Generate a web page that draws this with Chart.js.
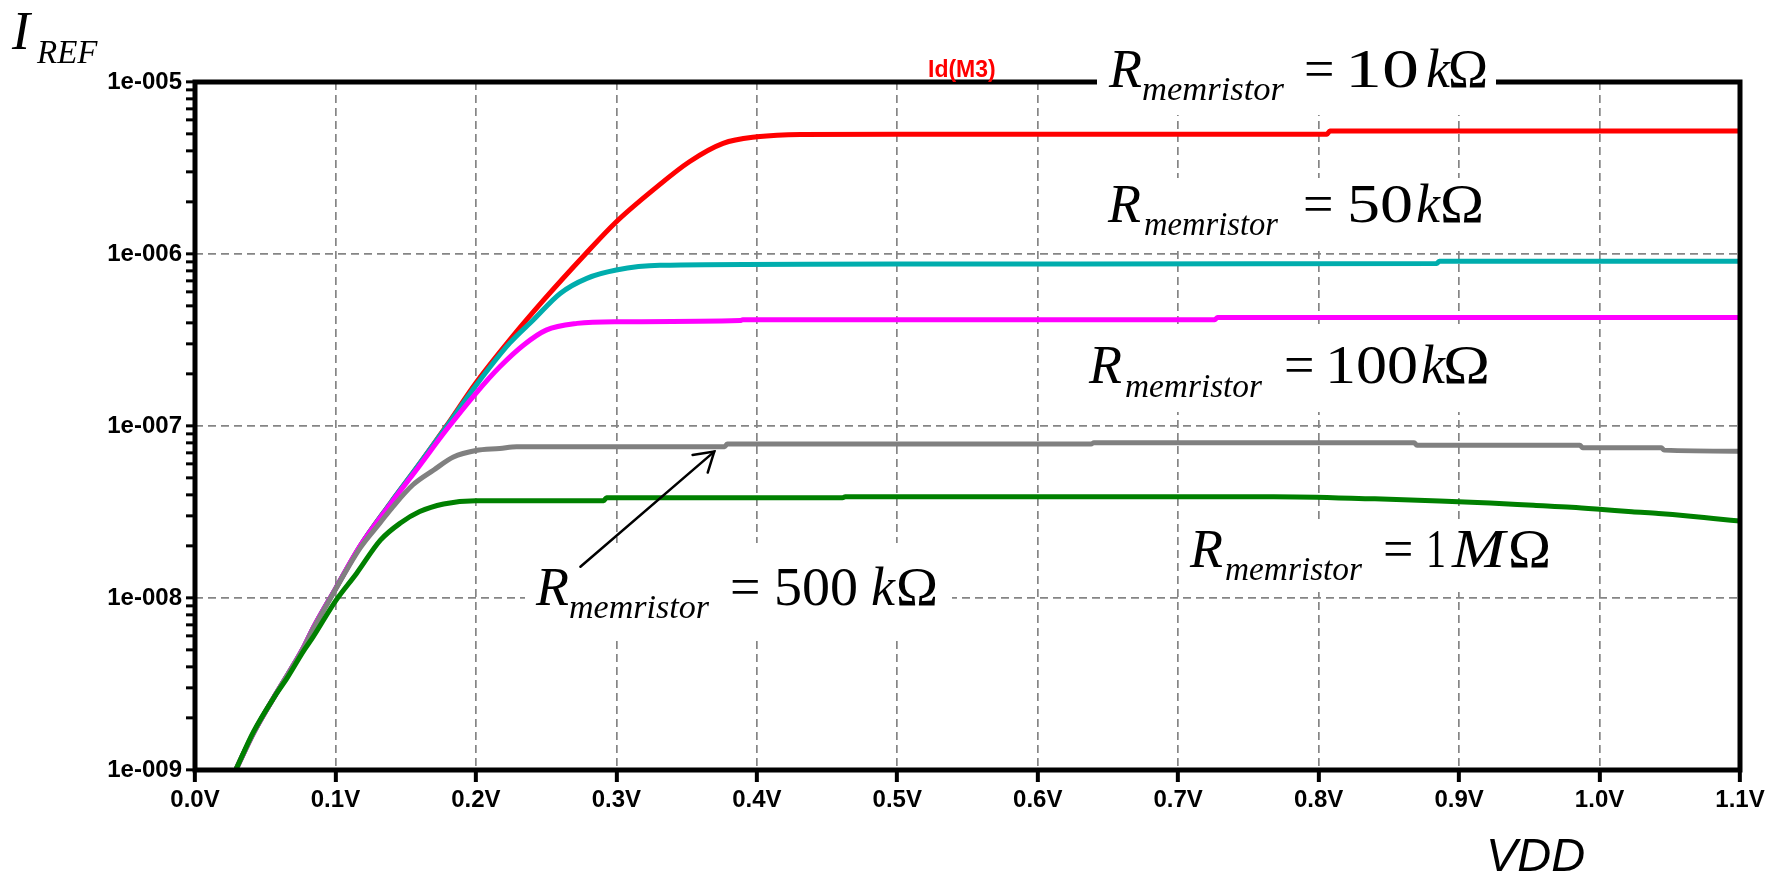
<!DOCTYPE html>
<html>
<head>
<meta charset="utf-8">
<script src="https://cdn.jsdelivr.net/npm/chart.js@4.4.1/dist/chart.umd.min.js"></script>
<style>
html,body{margin:0;padding:0;background:#fff;}
#wrap{width:1773px;height:875px;position:relative;}
</style>
</head>
<body>
<div id="wrap"><canvas id="c" width="1773" height="875"></canvas></div>
<script>
// ---------- data ----------
const xTickValues = [0,0.1,0.2,0.3,0.4,0.5,0.6,0.7,0.8,0.9,1.0,1.1];
const xTickLabels = ['0.0V','0.1V','0.2V','0.3V','0.4V','0.5V','0.6V','0.7V','0.8V','0.9V','1.0V','1.1V'];
const yTickValues = [1e-9,1e-8,1e-7,1e-6,1e-5];
const yTickLabels = ['1e-009','1e-008','1e-007','1e-006','1e-005'];

const seriesNames = ['R = 10 kΩ','R = 50 kΩ','R = 100 kΩ','R = 500 kΩ','R = 1 MΩ'];

const vdd10k = [0.029,0.042,0.058,0.077,0.0842,0.1,0.1175,0.139,0.16,0.179,0.2,0.224,0.248,0.278,0.3,0.326,0.352,0.376,0.4,0.431,0.5,0.806,0.808,1.1];
const id10k  = [1e-9,1.66e-9,2.8e-9,5.1e-9,6.7e-9,1.13e-8,2.0e-8,3.55e-8,6.05e-8,1.0e-7,1.78e-7,3.16e-7,5.37e-7,1.0e-6,1.54e-6,2.35e-6,3.44e-6,4.4e-6,4.8e-6,4.96e-6,4.97e-6,4.97e-6,5.19e-6,5.19e-6];

const vdd50k = [0.029,0.042,0.058,0.077,0.0842,0.1,0.1175,0.139,0.16,0.179,0.2,0.224,0.241,0.26,0.279,0.3,0.331,0.5,0.884,0.886,1.1];
const id50k  = [1e-9,1.66e-9,2.8e-9,5.1e-9,6.7e-9,1.13e-8,2.0e-8,3.55e-8,6.05e-8,9.9e-8,1.72e-7,3.03e-7,4.15e-7,5.9e-7,7.22e-7,8.07e-7,8.6e-7,8.75e-7,8.8e-7,9.08e-7,9.08e-7];

const vdd100k = [0.029,0.042,0.058,0.077,0.0842,0.1,0.1175,0.139,0.16,0.179,0.2,0.217,0.234,0.25,0.272,0.3,0.388,0.39,0.726,0.728,1.1];
const id100k  = [1e-9,1.66e-9,2.8e-9,5.1e-9,6.7e-9,1.13e-8,2.0e-8,3.5e-8,5.9e-8,9.5e-8,1.55e-7,2.21e-7,2.96e-7,3.61e-7,3.95e-7,4.04e-7,4.1e-7,4.15e-7,4.15e-7,4.27e-7,4.27e-7];

const vdd500k = [0.029,0.042,0.058,0.077,0.0842,0.1,0.1175,0.132,0.141,0.155,0.17,0.184,0.2,0.217,0.229,0.377,0.379,0.638,0.64,0.868,0.87,0.986,0.988,1.044,1.046,1.1];
const id500k  = [1e-9,1.66e-9,2.8e-9,5.05e-9,6.6e-9,1.12e-8,1.95e-8,2.75e-8,3.4e-8,4.54e-8,5.55e-8,6.6e-8,7.2e-8,7.4e-8,7.58e-8,7.58e-8,7.85e-8,7.85e-8,8.0e-8,8.0e-8,7.73e-8,7.73e-8,7.48e-8,7.48e-8,7.24e-8,7.14e-8];

const vdd1M = [0.029,0.0415,0.058,0.0653,0.077,0.0842,0.1,0.115,0.132,0.146,0.16,0.177,0.2,0.291,0.293,0.461,0.463,0.768,0.84,0.886,0.922,0.953,0.98,1.002,1.023,1.042,1.063,1.081,1.1];
const id1M  = [1e-9,1.66e-9,2.78e-9,3.4e-9,4.88e-9,5.96e-9,9.6e-9,1.39e-8,2.17e-8,2.72e-8,3.18e-8,3.52e-8,3.68e-8,3.68e-8,3.83e-8,3.83e-8,3.88e-8,3.88e-8,3.77e-8,3.67e-8,3.57e-8,3.46e-8,3.37e-8,3.27e-8,3.17e-8,3.1e-8,3.0e-8,2.9e-8,2.8e-8];

// ---------- helpers ----------
const pts = (xs, ys) => xs.map((x, i) => ({x, y: ys[i]}));
const isDecade = v => v > 0 && Math.abs(Math.log10(v) - Math.round(Math.log10(v))) < 1e-6;
const yAllTicks = [];
yTickValues.forEach((d, k) => {
  yAllTicks.push(d);
  if (k < yTickValues.length - 1) for (let m = 2; m <= 9; m++) yAllTicks.push(d * m);
});

// annotation text
const serif = '"Liberation Serif", "Times New Roman", serif';
const sans = '"Liberation Sans", Arial, sans-serif';
const annLabels = [
  {x:1109, y:87, box:[1097,45,1496,115], pieces:[
    {t:'R', it:true, s:54, dx:0},
    {t:'memristor', it:true, s:33, dx:33, dy:13, w:142},
    {t:'=', s:54, dx:195},
    {t:'10', s:54, dx:236, w:74},
    {t:'k', it:true, s:54, dx:317},
    {t:'Ω', s:54, dx:339, w:40}]},
  {x:1108, y:222, box:[1095,178,1497,250], pieces:[
    {t:'R', it:true, s:54, dx:0},
    {t:'memristor', it:true, s:33, dx:36, dy:13, w:134},
    {t:'=', s:54, dx:195},
    {t:'50', s:54, dx:239, w:66},
    {t:'k', it:true, s:54, dx:308},
    {t:'Ω', s:54, dx:332, w:44}]},
  {x:1089, y:383, box:[1075,328,1502,412], pieces:[
    {t:'R', it:true, s:54, dx:0},
    {t:'memristor', it:true, s:33, dx:36, dy:14, w:137},
    {t:'=', s:54, dx:195},
    {t:'100', s:54, dx:236, w:93},
    {t:'k', it:true, s:54, dx:332},
    {t:'Ω', s:54, dx:354, w:47}]},
  {x:536, y:605, box:[525,543,952,637], pieces:[
    {t:'R', it:true, s:54, dx:0},
    {t:'memristor', it:true, s:33, dx:33, dy:13, w:140},
    {t:'=', s:54, dx:194},
    {t:'500', s:54, dx:238, w:84},
    {t:'k', it:true, s:54, dx:335},
    {t:'Ω', s:54, dx:360, w:42}]},
  {x:1190, y:567, box:[1182,524,1562,592], pieces:[
    {t:'R', it:true, s:54, dx:0},
    {t:'memristor', it:true, s:33, dx:35, dy:13, w:137},
    {t:'=', s:54, dx:193},
    {t:'1', s:54, dx:236, w:20},
    {t:'M', it:true, s:54, dx:262, w:53},
    {t:'Ω', s:54, dx:318, w:43}]}
];
const arrowTail = {x:0.2744, y:1.52e-8};
const arrowTip  = {x:0.3697, y:7.1e-8};

function drawLabel(ctx, L){
  ctx.fillStyle = '#000';
  ctx.textBaseline = 'alphabetic';
  ctx.textAlign = 'left';
  L.pieces.forEach(p => {
    ctx.font = (p.it ? 'italic ' : '') + p.s + 'px ' + serif;
    const m = ctx.measureText(p.t).width;
    ctx.save();
    ctx.translate(L.x + p.dx, L.y + (p.dy || 0));
    if (p.w) ctx.scale(p.w / m, 1);
    ctx.fillText(p.t, 0, 0);
    ctx.restore();
  });
}
function fillBox(ctx, b){ ctx.fillStyle = '#fff'; ctx.fillRect(b[0], b[1], b[2]-b[0], b[3]-b[1]); }

const decor = {
  id: 'decor',
  beforeDatasetsDraw(chart){
    const ctx = chart.ctx;
    ctx.save();
    annLabels.forEach(L => fillBox(ctx, L.box));
    ctx.restore();
  },
  afterDatasetsDraw(chart){
    const {ctx, chartArea:a, scales} = chart;
    ctx.save();
    // frame
    ctx.strokeStyle = '#000';
    ctx.lineWidth = 5;
    ctx.lineJoin = 'miter';
    ctx.beginPath();
    ctx.moveTo(a.left, a.top);
    ctx.lineTo(a.right, a.top);
    ctx.lineTo(a.right, a.bottom);
    ctx.lineTo(a.left, a.bottom);
    ctx.closePath();
    ctx.stroke();
    // label box cutting the top border
    fillBox(ctx, annLabels[0].box);
    // labels
    annLabels.forEach(L => drawLabel(ctx, L));
    // arrow
    const x1 = scales.x.getPixelForValue(arrowTail.x), y1 = scales.y.getPixelForValue(arrowTail.y);
    const x2 = scales.x.getPixelForValue(arrowTip.x), y2 = scales.y.getPixelForValue(arrowTip.y);
    ctx.strokeStyle = '#000';
    ctx.lineWidth = 2.5;
    ctx.lineCap = 'round';
    ctx.beginPath(); ctx.moveTo(x1, y1); ctx.lineTo(x2, y2); ctx.stroke();
    const ang = Math.atan2(y2 - y1, x2 - x1);
    const hl = 22, ha = 32 * Math.PI / 180;
    ctx.beginPath();
    ctx.moveTo(x2 - hl * Math.cos(ang - ha), y2 - hl * Math.sin(ang - ha));
    ctx.lineTo(x2, y2);
    ctx.lineTo(x2 - hl * Math.cos(ang + ha), y2 - hl * Math.sin(ang + ha));
    ctx.stroke();
    // trace name
    ctx.fillStyle = '#ff0000';
    ctx.font = 'bold 23px ' + sans;
    ctx.textAlign = 'left';
    ctx.fillText('Id(M3)', 928, 77);
    // axis titles
    ctx.fillStyle = '#000';
    ctx.font = 'italic 54px ' + serif;
    ctx.fillText('I', 12, 49);
    ctx.font = 'italic 33px ' + serif;
    ctx.fillText('REF', 37, 63);
    ctx.font = 'italic 47px ' + sans;
    ctx.fillText('VDD', 1486, 871);
    ctx.restore();
  }
};

const colors = ['#ff0000', '#00adad', '#ff00ff', '#808080', '#008000'];
const sets = [pts(vdd10k,id10k), pts(vdd50k,id50k), pts(vdd100k,id100k), pts(vdd500k,id500k), pts(vdd1M,id1M)];
const orders = [5, 4, 3, 2, 1];

new Chart(document.getElementById('c'), {
  type: 'line',
  data: {
    datasets: sets.map((d, i) => ({
      label: seriesNames[i],
      data: d,
      borderColor: colors[i],
      backgroundColor: colors[i],
      borderWidth: 5,
      pointRadius: 0,
      cubicInterpolationMode: 'monotone',
      fill: false,
      order: orders[i]
    }))
  },
  options: {
    responsive: false,
    animation: false,
    devicePixelRatio: 1,
    layout: { padding: { top: 82, right: 33, left: 0, bottom: 0 } },
    plugins: { legend: { display: false }, tooltip: { enabled: false } },
    scales: {
      x: {
        type: 'linear',
        min: 0, max: 1.1,
        afterBuildTicks: s => { s.ticks = xTickValues.map(v => ({value: v})); },
        afterFit: s => { s.height = 105; },
        border: { display: false, dash: [8, 5] },
        grid: { color: '#858585', lineWidth: 1.7, drawTicks: true, tickLength: 12, tickWidth: 4, tickColor: '#000' },
        ticks: {
          autoSkip: false, maxRotation: 0, padding: 4,
          color: '#000',
          font: { family: '"Liberation Sans", Arial, sans-serif', size: 24, weight: 'bold' },
          callback: (v, i) => xTickLabels[i]
        }
      },
      y: {
        type: 'logarithmic',
        min: 1e-9, max: 1e-5,
        afterBuildTicks: s => { s.ticks = yAllTicks.map(v => ({value: v, major: isDecade(v)})); },
        afterFit: s => { s.width = 195; },
        border: { display: false, dash: [8, 5] },
        grid: {
          color: c => (c.tick && isDecade(c.tick.value)) ? '#858585' : 'rgba(0,0,0,0)',
          lineWidth: 1.7, drawTicks: true, tickLength: 9, tickWidth: 3, tickColor: '#000'
        },
        ticks: {
          autoSkip: false, padding: 4,
          color: '#000',
          font: { family: '"Liberation Sans", Arial, sans-serif', size: 24, weight: 'bold' },
          callback: (v) => {
            const k = yTickValues.findIndex(d => Math.abs(d - v) / d < 1e-6);
            return k >= 0 ? yTickLabels[k] : '';
          }
        }
      }
    }
  },
  plugins: [decor]
});
</script>
</body>
</html>
